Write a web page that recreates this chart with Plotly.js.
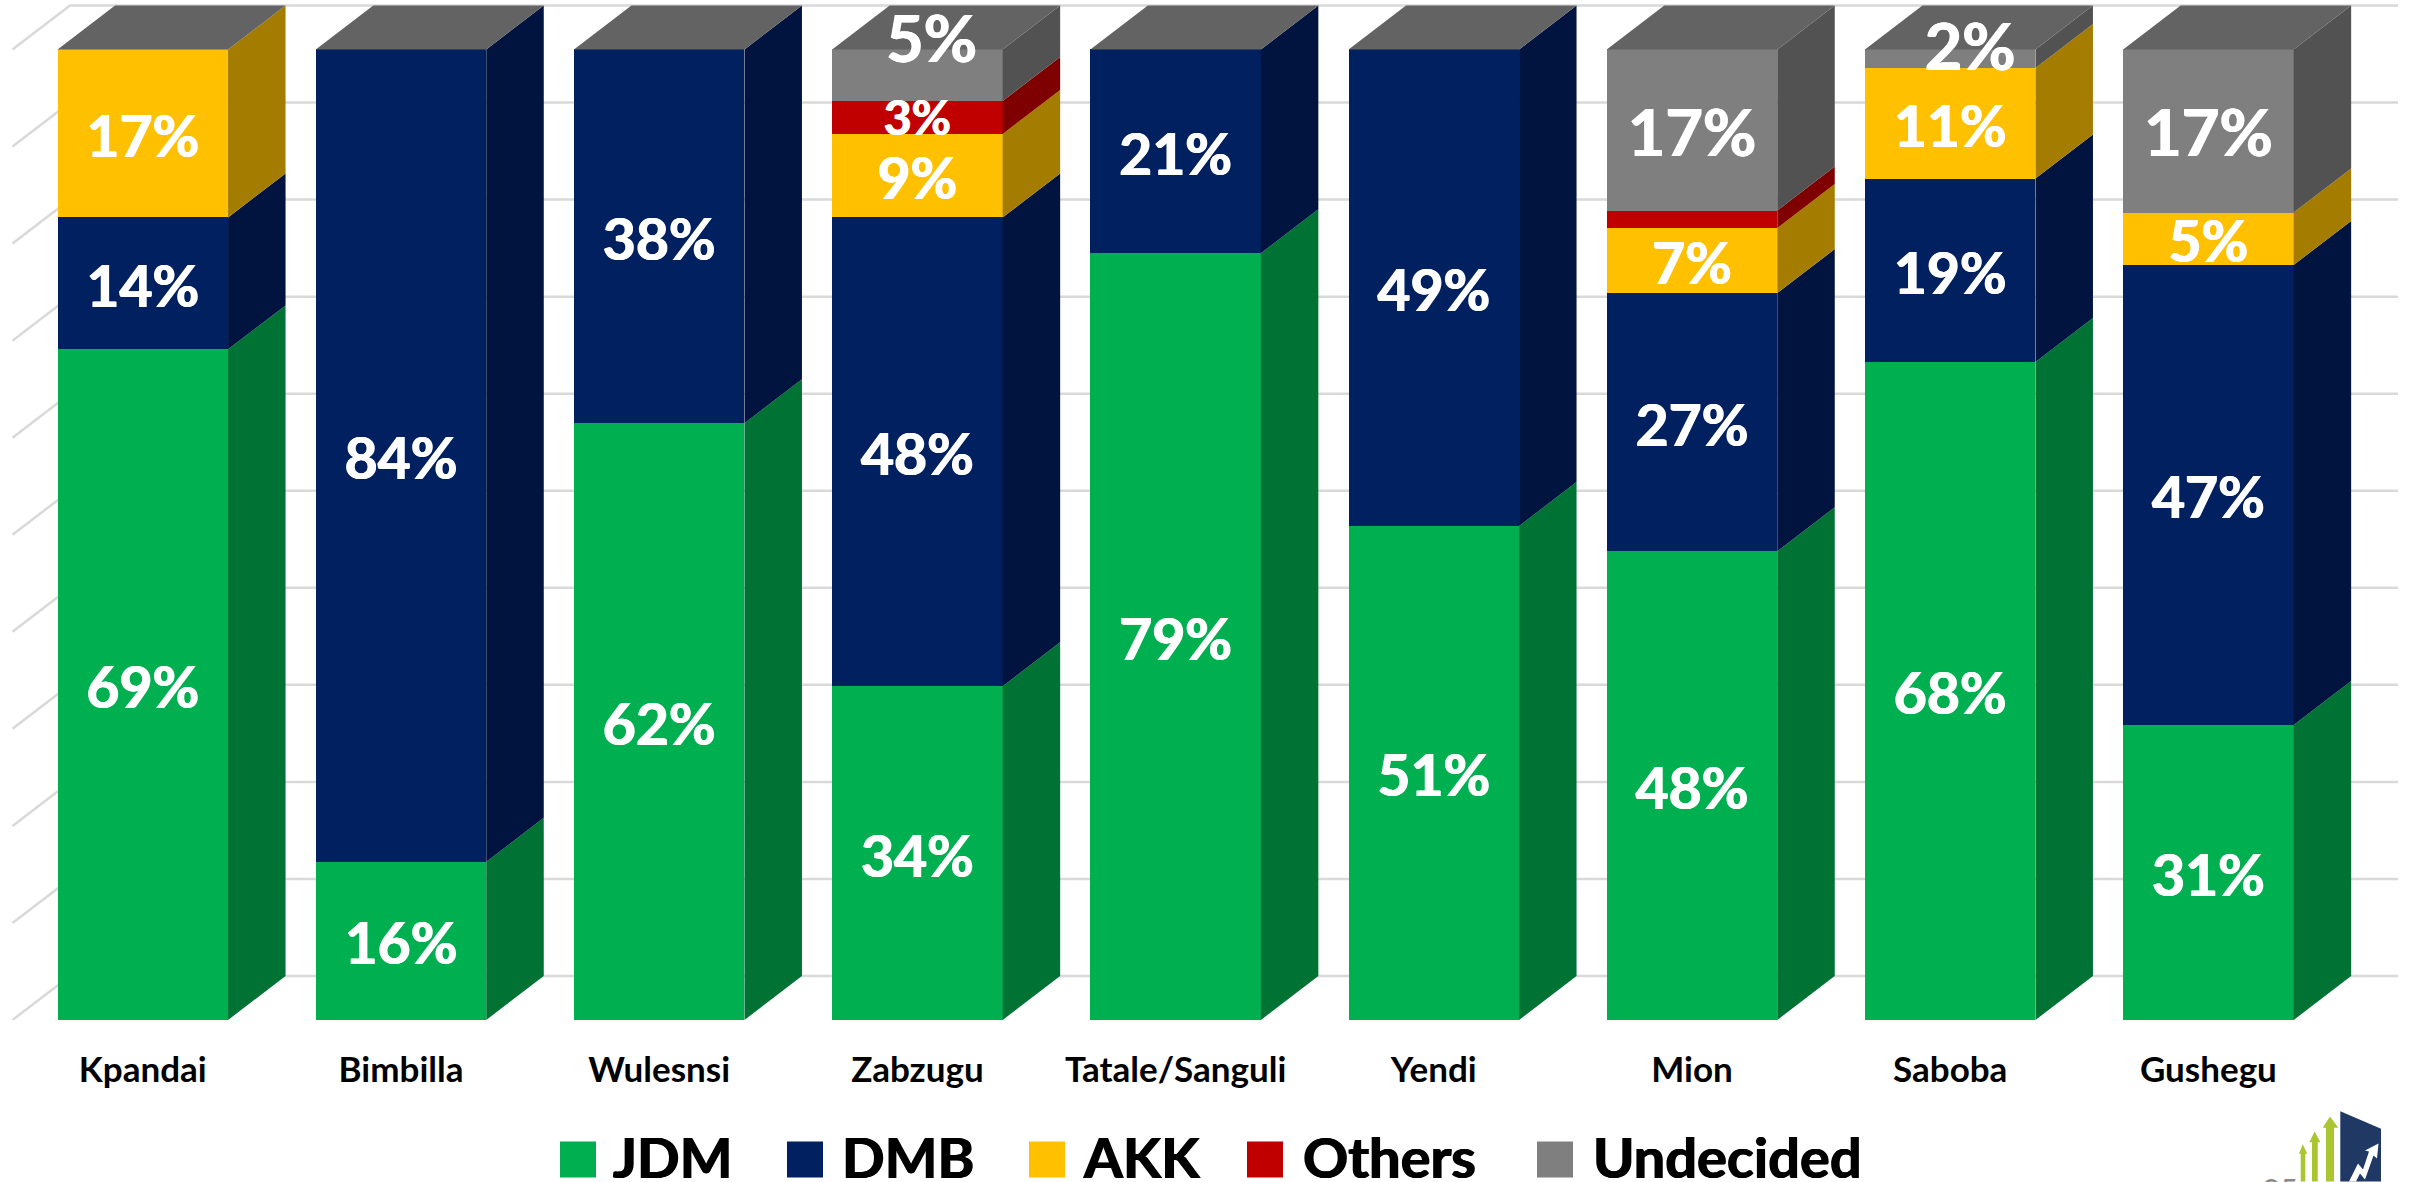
<!DOCTYPE html>
<html><head><meta charset="utf-8"><script src="https://cdn.plot.ly/plotly-3.0.1.min.js"></script>
<style>html,body{margin:0;padding:0;background:#fff;overflow:hidden}#c{width:2413px;height:1182px}</style></head>
<body><div id="c"></div>
<script>
const categories=["Kpandai","Bimbilla","Wulesnsi","Zabzugu","Tatale/Sanguli","Yendi","Mion","Saboba","Gushegu"];
const seriesNames=["JDM","DMB","AKK","Others","Undecided"];
const JDM=[69.1,16.3,61.5,34.4,79.0,50.9,48.3,67.8,30.4];
const DMB=[13.6,83.7,38.5,48.3,21.0,49.1,26.6,18.9,47.4];
const AKK=[17.3,0,0,8.6,0,0,6.7,11.4,5.4];
const Others=[0,0,0,3.4,0,0,1.8,0,0];
const Undecided=[0,0,0,5.3,0,0,16.6,1.9,16.8];
const labelsJDM=["69%","16%","62%","34%","79%","51%","48%","68%","31%"];
const labelsDMB=["14%","84%","38%","48%","21%","49%","27%","19%","47%"];
const labelsAKK=["17%","","","9%","","","7%","11%","5%"];
const labelsOthers=["","","","3%","","","","",""];
const labelsUndecided=["","","","5%","","","17%","2%","17%"];
const undecidedLabelLift=[0,0,0,3.95,0,0,0,1.45,0];
const undecidedLabelShift=[0,0,0,0.055,0,0,0,0.077,0];
const frontColors=["#00B050","#002060","#FFC000","#C00000","#7F7F7F"];
const sideColors=["#007234","#00143F","#A47D00","#7E0000","#525252"];
const topColor="#636363";
const labelSizes=[57,57,57,48,65];
const labelDrop=[0.95,0.95,0.95,0.6,0.95];
const gridTicks=[0,10,20,30,40,50,60,70,80,90,100];
const FONT="Lato, 'Open Sans', sans-serif";

const W=2413,H=1182,baseY=1020.5,unitPx=9.71,pitch=258.2,firstX=142.8;
const barW=170.5/pitch, depthX=57.5/pitch, depthY=44/unitPx;
const series=[JDM,DMB,AKK,Others,Undecided];
const labels=[labelsJDM,labelsDMB,labelsAKK,labelsOthers,labelsUndecided];
const xs=categories.map((_,i)=>i);
const traces=[];
const cum=categories.map(()=>0);
series.forEach((vals,s)=>{
  traces.push({type:"bar",name:seriesNames[s],x:xs,y:vals,width:barW,marker:{color:frontColors[s],line:{width:0}},hoverinfo:"skip",showlegend:false});
});
const textTraces=[];
series.forEach((vals,s)=>{
  const sx=[],sy=[],lx=[],ly=[];
  vals.forEach((v,i)=>{
    const y0=cum[i],y1=cum[i]+v,xr=i+barW/2;
    if(v>0){sx.push(xr,xr+depthX,xr+depthX,xr,xr,null);sy.push(y0,y0+depthY,y1+depthY,y1,y0,null);}
    lx.push(i+(s===4?undecidedLabelShift[i]:0));
    ly.push((y0+y1)/2+(s===4?undecidedLabelLift[i]:0)-labelDrop[s]);
    cum[i]=y1;
  });
  traces.push({type:"scatter",mode:"lines",x:sx,y:sy,fill:"toself",fillcolor:sideColors[s],line:{width:0,color:sideColors[s]},hoverinfo:"skip",showlegend:false});
  textTraces.push({type:"scatter",mode:"text",x:lx,y:ly,text:labels[s],textposition:"middle center",
    textfont:{family:FONT,size:labelSizes[s],color:"#FFFFFF",weight:700,shadow:"0.7px 0 0 #fff,-0.7px 0 0 #fff"},hoverinfo:"skip",showlegend:false,cliponaxis:false});
});
const tx=[],ty=[];
xs.forEach(i=>{const l=i-barW/2,r=i+barW/2,t=cum[i];tx.push(l,r,r+depthX,l+depthX,l,null);ty.push(t,t,t+depthY,t+depthY,t,null);});
traces.push({type:"scatter",mode:"lines",x:tx,y:ty,fill:"toself",fillcolor:topColor,line:{width:0,color:topColor},hoverinfo:"skip",showlegend:false});
textTraces.forEach(t=>traces.push(t));

const pxX=p=>(p-firstX)/pitch, px=p=>p/W, py=p=>(baseY-p)/baseY;
const shapes=[];
const gridLine={color:"#D9D9D9",width:2.5};
const gridLeft=pxX(12.5), gridRight=pxX(2398);
gridTicks.forEach(v=>{
  shapes.push({type:"line",layer:"below",xref:"x",yref:"y",x0:gridLeft,y0:v,x1:gridLeft+depthX,y1:v+depthY,line:gridLine});
  shapes.push({type:"line",layer:"below",xref:"x",yref:"y",x0:gridLeft+depthX,y0:v+depthY,x1:gridRight,y1:v+depthY,line:gridLine});
});
const annotations=[];
const swatchX=[560,787,1029,1247,1537], legendTextX=[613,842,1083,1303,1593];
seriesNames.forEach((n,i)=>{
  shapes.push({type:"rect",xref:"paper",yref:"paper",x0:px(swatchX[i]),x1:px(swatchX[i]+36),y0:py(1178),y1:py(1142),fillcolor:frontColors[i],line:{width:0}});
  annotations.push({xref:"paper",yref:"paper",x:px(legendTextX[i]),y:py(1157),xanchor:"left",yanchor:"middle",showarrow:false,text:n,font:{family:FONT,size:56,color:"#000",weight:700,shadow:"0.7px 0 0 #000,-0.7px 0 0 #000"},xshift:-2});
});
const poly=pts=>"M"+pts.map(p=>px(p[0])+","+py(p[1])).join("L")+"Z";
const logoGreen="#A9C52F";
[
 [[2330,1117],[2338.3,1128.3],[2334,1128.3],[2334,1182],[2326,1182],[2326,1128.3],[2322.7,1128.3]],
 [[2314.7,1132],[2320.3,1142.7],[2317.7,1142.7],[2317.7,1182],[2312,1182],[2312,1142.7],[2309.3,1142.7]],
 [[2302.7,1144.7],[2307.3,1154.3],[2305.3,1154.3],[2305.3,1182],[2300.7,1182],[2300.7,1154.3],[2299,1154.3]]
].forEach(a=>shapes.push({type:"path",xref:"paper",yref:"paper",path:poly(a),fillcolor:logoGreen,line:{width:0}}));
shapes.push({type:"path",xref:"paper",yref:"paper",path:poly([[2340.3,1111.7],[2381,1129.3],[2381,1182],[2340.3,1182]]),fillcolor:"#1F3864",line:{width:0}});
shapes.push({type:"path",xref:"paper",yref:"paper",path:poly([[2378.5,1144],[2377,1159],[2373.5,1156],[2365,1180],[2360,1174],[2356,1182],[2349,1182],[2358,1164],[2363,1170],[2369,1152],[2365,1151]]),fillcolor:"#FFFFFF",line:{width:0}});
annotations.push({xref:"paper",yref:"paper",x:px(2280),y:py(1169),xanchor:"center",yanchor:"top",showarrow:false,text:"35",font:{family:FONT,size:31,color:"#898989"}});

const layout={width:W,height:H,margin:{l:0,r:0,t:0,b:H-baseY,pad:0},paper_bgcolor:"#fff",plot_bgcolor:"#fff",barmode:"stack",bargap:0,showlegend:false,hovermode:false,
 xaxis:{type:"linear",range:[pxX(0),pxX(W)],tickmode:"array",tickvals:xs,ticktext:categories,showgrid:false,zeroline:false,showline:false,ticks:"outside",ticklen:19,tickcolor:"rgba(0,0,0,0)",tickfont:{family:FONT,size:35,color:"#000",weight:700},fixedrange:true},
 yaxis:{range:[0,baseY/unitPx],showgrid:false,zeroline:false,showline:false,showticklabels:false,ticks:"",fixedrange:true},
 shapes,annotations};
Plotly.newPlot("c",traces,layout,{displayModeBar:false,staticPlot:true});
</script></body></html>
